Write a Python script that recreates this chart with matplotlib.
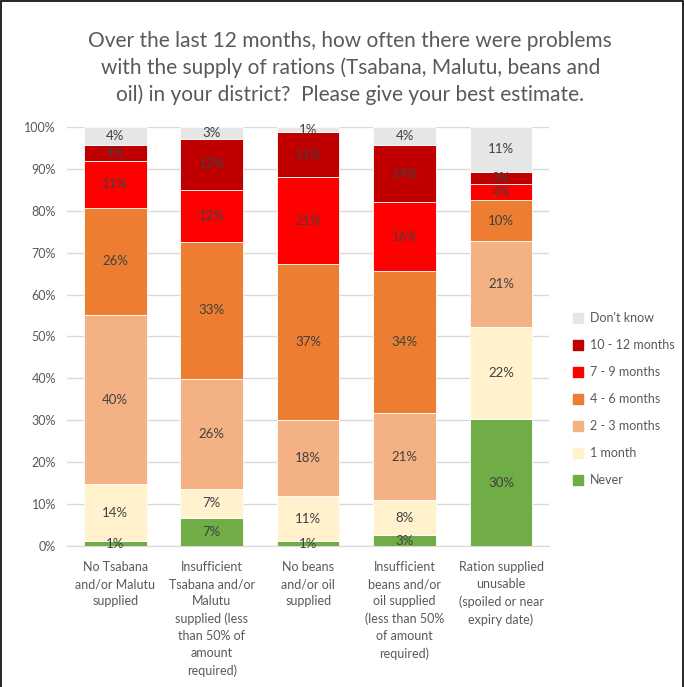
import matplotlib.pyplot as plt
from matplotlib.patches import Rectangle, Patch

plt.rcParams['font.family'] = ['Lato', 'DejaVu Sans']

categories = [
    "No Tsabana\nand/or Malutu\nsupplied",
    "Insufficient\nTsabana and/or\nMalutu\nsupplied (less\nthan 50% of\namount\nrequired)",
    "No beans\nand/or oil\nsupplied",
    "Insufficient\nbeans and/or\noil supplied\n(less than 50%\nof amount\nrequired)",
    "Ration supplied\nunusable\n(spoiled or near\nexpiry date)",
]

series_names = ["Never", "1 month", "2 - 3 months", "4 - 6 months",
                "7 - 9 months", "10 - 12 months", "Don't know"]

never = [1.2, 6.7, 1.2, 2.6, 30.2]
one_month = [13.6, 6.9, 10.7, 8.3, 22.0]
two_three = [40.3, 26.3, 18.2, 20.8, 20.6]
four_six = [25.6, 32.7, 37.2, 33.9, 9.7]
seven_nine = [11.2, 12.4, 20.7, 16.4, 3.9]
ten_twelve = [3.8, 12.1, 10.7, 13.7, 2.9]
dont_know = [4.3, 2.9, 1.3, 4.3, 10.7]

series = [never, one_month, two_three, four_six, seven_nine, ten_twelve, dont_know]
colors = ["#70AD47", "#FFF2CC", "#F4B183", "#ED7D31", "#FF0000", "#C00000", "#E7E6E6"]

text_col = "#595959"

fig = plt.figure(figsize=(6.84, 6.87), dpi=100)
ax = fig.add_axes([0.098, 0.2052, 0.705, 0.610])

x = range(len(categories))
bottoms = [0.0] * len(categories)
for name, vals, col in zip(series_names, series, colors):
    ax.bar(x, vals, bottom=bottoms, width=0.65, color=col, label=name,
           edgecolor="white", linewidth=0.6, zorder=3)
    for i, v in enumerate(vals):
        ax.text(i, bottoms[i] + v / 2, f"{round(v):d}%", ha="center", va="center",
                fontsize=9.5, color="#404040", zorder=4)
    bottoms = [b + v for b, v in zip(bottoms, vals)]

ax.set_xlim(-0.5, 4.5)
ax.set_ylim(0, 100)
ax.set_yticks(range(0, 101, 10))
ax.set_yticklabels([f"{t}%" for t in range(0, 101, 10)], fontsize=9, color=text_col)
ax.set_xticks(list(x))
ax.set_xticklabels(categories, fontsize=9, color=text_col, linespacing=1.5, va="top")
ax.tick_params(axis="x", length=0, pad=11)
ax.tick_params(axis="y", length=0, pad=8)
ax.grid(axis="y", color="#D9D9D9", linewidth=1, zorder=0)
for s in ["top", "right", "left"]:
    ax.spines[s].set_visible(False)
ax.spines["bottom"].set_color("#D9D9D9")

handles = [Patch(color=c) for c in colors][::-1]
leg = fig.legend(handles, series_names[::-1], loc="upper left",
                 bbox_to_anchor=(0.822, 0.562), frameon=False, fontsize=9,
                 handlelength=0.8, handleheight=0.8, labelspacing=1.2,
                 handletextpad=0.5)
for t in leg.get_texts():
    t.set_color(text_col)

fig.text(0.512, 0.955,
         "Over the last 12 months, how often there were problems\n"
         "with the supply of rations (Tsabana, Malutu, beans and\n"
         "oil) in your district?  Please give your best estimate.",
         ha="center", va="top", fontsize=15, color=text_col, linespacing=1.4)

fig.patches.append(Rectangle((0.001, -0.01), 0.997, 1.008, transform=fig.transFigure,
                             fill=False, edgecolor="black", linewidth=1.2))

fig.savefig("out.png", dpi=100)
